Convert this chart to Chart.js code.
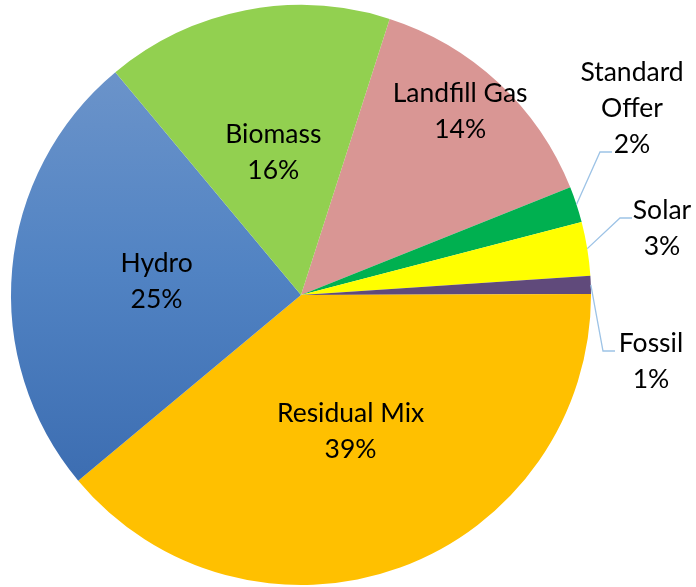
<!DOCTYPE html>
<html>
<head>
<meta charset="utf-8">
<script src="https://cdn.jsdelivr.net/npm/chart.js@4.4.1/dist/chart.umd.min.js"></script>
<style>
  html, body { margin: 0; padding: 0; background: #fff; }
  #wrap { width: 696px; height: 587px; position: relative; }
</style>
</head>
<body>
<div id="wrap"><canvas id="myChart"></canvas></div>
<script>
// data, clockwise starting from the Landfill Gas slice
const labels = ["Landfill Gas", "Standard Offer", "Solar", "Fossil", "Residual Mix", "Hydro", "Biomass"];
const shares = [14, 2, 3, 1, 39, 25, 16];
const colors = ["#D99694", "#00B050", "#FFFF00", "#604A7B", "#FFC000", "hydro", "#92D050"];

// how each label is placed: inside at a fraction of the radius, or outside with a leader line
const labelLines = [["Landfill Gas"], ["Standard", "Offer"], ["Solar"], ["Fossil"], ["Residual Mix"], ["Hydro"], ["Biomass"]];
const labelPlace = [
  { r: 0.835, dx: -6, dy: -6 },
  { x: 632, y: 72, elbow: [600, 152], end: 612 },
  { x: 662, y: 210, elbow: [620, 218], end: 632 },
  { x: 651, y: 343, elbow: [603, 351], end: 615 },
  { r: 0.5 },
  { r: 0.5 },
  { r: 0.5 },
];

const FONT = "26.5px Lato, 'Liberation Sans', sans-serif";
const LINE_H = 36;

const pieLabels = {
  id: "pieLabels",
  afterDatasetsDraw(chart) {
    const ctx = chart.ctx;
    const meta = chart.getDatasetMeta(0);
    const total = shares.reduce((a, b) => a + b, 0);
    ctx.save();
    ctx.font = FONT;
    ctx.fillStyle = "#000";
    ctx.textAlign = "center";
    ctx.textBaseline = "middle";
    meta.data.forEach((arc, i) => {
      const p = labelPlace[i];
      const pct = Math.round((shares[i] / total) * 100) + "%";
      const lines = labelLines[i].concat([pct]);
      const mid = (arc.startAngle + arc.endAngle) / 2;
      if (p.r !== undefined) {
        const cx = arc.x + Math.cos(mid) * arc.outerRadius * p.r + (p.dx || 0);
        const cy = arc.y + Math.sin(mid) * arc.outerRadius * p.r + (p.dy || 0);
        const top = cy - ((lines.length - 1) * LINE_H) / 2;
        lines.forEach((t, k) => ctx.fillText(t, cx, top + k * LINE_H));
      } else {
        const sx = arc.x + Math.cos(mid) * arc.outerRadius;
        const sy = arc.y + Math.sin(mid) * arc.outerRadius;
        ctx.strokeStyle = "#9DC3E6";
        ctx.lineWidth = 1.3;
        ctx.beginPath();
        ctx.moveTo(sx, sy);
        ctx.lineTo(p.elbow[0], p.elbow[1]);
        ctx.lineTo(p.end, p.elbow[1]);
        ctx.stroke();
        lines.forEach((t, k) => ctx.fillText(t, p.x, p.y + k * LINE_H));
      }
    });
    ctx.restore();
  },
};

const ctx = document.getElementById("myChart").getContext("2d");
new Chart(ctx, {
  type: "pie",
  data: {
    labels: labels,
    datasets: [
      {
        data: shares,
        backgroundColor: (c) => {
          const col = colors[c.dataIndex];
          if (col !== "hydro") return col;
          const area = c.chart.chartArea;
          if (!area) return "#4F81BD";
          const g = c.chart.ctx.createLinearGradient(0, area.top + 60, 0, area.bottom - 110);
          g.addColorStop(0, "#6C94CA");
          g.addColorStop(0.5, "#5183C3");
          g.addColorStop(1, "#3D6EB2");
          return g;
        },
        borderWidth: 0,
      },
    ],
  },
  options: {
    responsive: true,
    maintainAspectRatio: false,
    animation: false,
    rotation: 17.8,
    layout: { padding: { left: 11, right: 105, top: 5, bottom: 2 } },
    plugins: {
      legend: { display: false },
      tooltip: { enabled: false },
    },
  },
  plugins: [pieLabels],
});
</script>
</body>
</html>
